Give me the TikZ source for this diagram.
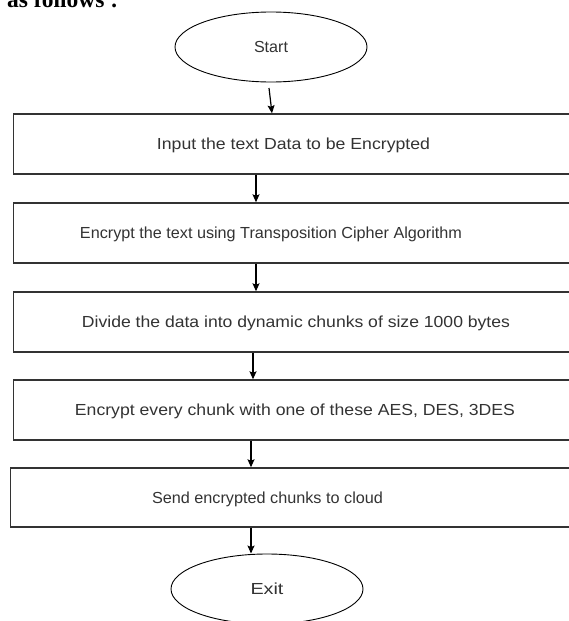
\documentclass[tikz,border=0pt]{standalone}
\usepackage{fontspec}
\setmainfont{Liberation Sans}
\newfontfamily\serifb{Liberation Serif}
\usetikzlibrary{shapes.geometric,arrows.meta}
\begin{document}
\begin{tikzpicture}[x=1pt,y=-1pt,
  boxstyle/.style={draw=black!80, line width=1.4pt, rectangle, inner sep=0pt,
    minimum height=60pt, minimum width=600pt, anchor=west},
  termstyle/.style={draw=black, line width=0.9pt, ellipse, inner sep=0pt,
    minimum width=192pt, minimum height=70pt, text=black!80,
    font=\fontsize{16}{18}\selectfont},
  lbl/.style={text=black!80, font=\fontsize{16}{18}\selectfont, inner sep=0pt},
  arr/.style={draw=black, line width=1.2pt, -{Stealth[length=8pt,width=7pt,inset=1.5pt]}}]
\useasboundingbox (0,0) rectangle (569,621);
\clip (0,0) rectangle (569,621);
\fill[white] (0,0) rectangle (569,621);

\node[anchor=base west, inner sep=0pt, font=\serifb\bfseries\fontsize{23.5}{26}\selectfont] (hdr) at (7,7.5) {as follows :};

\node[termstyle] (start) at (271,47) {\resizebox{34pt}{\height}{Start}};
\node[termstyle] (exit) at (267,589) {\resizebox{33pt}{\height}{Exit}};

\node[boxstyle] (b1) at (13,144) {};
\node[boxstyle] (b2) at (13,233) {};
\node[boxstyle] (b3) at (13,322) {};
\node[boxstyle] (b4) at (13,410) {};
\node[boxstyle, minimum height=59pt] (b5) at (9.5,497.5) {};

\node[lbl] (t1) at (293.5,145) {\resizebox{273pt}{\height}{Input the text Data to be Encrypted}};
\node[lbl] (t2) at (271,234) {\resizebox{382pt}{\height}{Encrypt the text using Transposition Cipher Algorithm}};
\node[lbl] (t3) at (296,323) {\resizebox{428pt}{\height}{Divide the data into dynamic chunks of size 1000 bytes}};
\node[lbl] (t4) at (295,411) {\resizebox{440pt}{\height}{Encrypt every chunk with one of these AES, DES, 3DES}};
\node[lbl] (t5) at (267.5,499) {\resizebox{231pt}{\height}{Send encrypted chunks to cloud}};

\coordinate (s0) at (269,88);
\coordinate (x0) at (272,0);
\coordinate (x1) at (256,0);
\coordinate (x3) at (253,0);
\coordinate (x4) at (251,0);

\draw[arr] (s0) -- (b1.north -| x0);
\draw[arr] (b1.south -| x1) -- (b2.north -| x1);
\draw[arr] (b2.south -| x1) -- (b3.north -| x1);
\draw[arr] (b3.south -| x3) -- (b4.north -| x3);
\draw[arr] (b4.south -| x4) -- (b5.north -| x4);
\draw[arr] (b5.south -| x4) -- (exit.north -| x4);
\end{tikzpicture}
\end{document}
